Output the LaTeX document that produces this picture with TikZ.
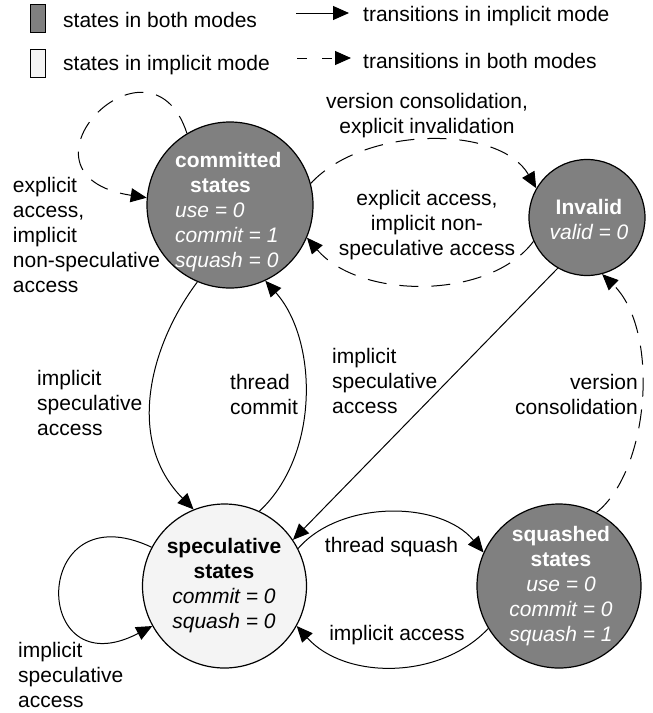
\documentclass[tikz,border=0pt]{standalone}
\usepackage{fontspec}
\setmainfont{Liberation Sans}
\usetikzlibrary{arrows.meta}
\definecolor{dgray}{RGB}{128,128,128}
\definecolor{lgray}{RGB}{244,244,244}
\begin{document}
\begin{tikzpicture}[x=1pt,y=-1pt,
  every node/.style={font=\fontsize{21}{25}\selectfont, inner sep=0pt},
  stateA/.style={circle, draw=black, line width=1.2pt, fill=dgray},
  stateB/.style={circle, draw=black, line width=1.2pt, fill=lgray},
  intext/.style={text=white, align=center},
  lbl/.style={align=left},
  tr/.style={line width=1pt, -{Triangle[length=16pt,width=14pt]}},
  trd/.style={tr, dash pattern=on 19pt off 13pt},
  legbox/.style={draw=black, line width=1pt},
]
\useasboundingbox (0,0) rectangle (653,713);

% legend
\draw[legbox, fill=dgray] (30,4) rectangle (45,32);
\draw[legbox, fill=lgray] (30,49) rectangle (45,77);
\node[anchor=west] (lg1) at (63,20) {states in both modes};
\node[anchor=west] (lg2) at (63,65) {states in implicit mode};
\coordinate (la1) at (296,13);
\coordinate (la2) at (349,13);
\coordinate (la3) at (297,58);
\coordinate (la4) at (351,58);
\draw[tr] (la1) -- (la2);
\draw[tr, dash pattern=on 10pt off 15pt] (la3) -- (la4);
\node[anchor=west] (lg3) at (363,16) {transitions in implicit mode};
\node[anchor=west] (lg4) at (363,61) {transitions in both modes};

% states
\node[stateA, minimum size=166pt] (comm) at (230,205) {};
\node[stateA, minimum size=116pt] (inv) at (587,217.5) {};
\node[stateB, minimum size=164pt] (spec) at (224.5,586) {};
\node[stateA, minimum size=164pt] (sq) at (559,586) {};

\node[text=white, align=left, anchor=west] (commt) at (175,212)
  {\textbf{committed}\\\hspace*{15pt}\textbf{states}\\\textit{use = 0}\\\textit{commit = 1}\\\textit{squash = 0}};
\node[intext] (invt) at (589,219.5) {\textbf{Invalid}\\\textit{valid = 0}};
\node[align=center] (spect) at (224,586) {\textbf{speculative}\\\textbf{states}\\\textit{commit = 0}\\\textit{squash = 0}};
\node[intext] (sqt) at (561,586) {\textbf{squashed}\\\textbf{states}\\\textit{use = 0}\\\textit{commit = 0}\\\textit{squash = 1}};

% transitions
\draw[trd] (comm.121) .. controls (150,20) and (0,175) .. (comm.175);
\draw[trd] (comm.15) .. controls (365,125) and (500,125) .. (inv.150);
\draw[trd] (inv.204) .. controls (490,300) and (360,300) .. (comm.-23);
\draw[tr] (comm.247) .. controls (150,345) and (125,440) .. (spec.112);
\draw[tr] (spec.65) .. controls (320,455) and (318,340) .. (comm.-65);
\draw[tr] (inv.240) -- (spec.34);
\draw[tr] (spec.27) .. controls (340,500) and (440,500) .. (sq.156);
\draw[tr] (sq.211) .. controls (440,680) and (345,680) .. (spec.-29);
\draw[trd] (sq.63) .. controls (650,470) and (660,330) .. (inv.-75);
\draw[tr] (spec.152) .. controls (30,490) and (30,690) .. (spec.209);

% labels
\node[lbl, anchor=west] (l1) at (12.7,235) {explicit\\access,\\implicit\\non-speculative\\access};
\node[align=center] (l2) at (427,115.5) {version consolidation,\\explicit invalidation};
\node[align=center] (l3) at (427,225) {explicit access,\\implicit non-\\speculative access};
\node[lbl, anchor=west] (l4) at (37,403) {implicit\\speculative\\access};
\node[lbl, anchor=west] (l5) at (230,394.5) {thread\\commit};
\node[lbl, anchor=west] (l6) at (332,381) {implicit\\speculative\\access};
\node[align=right, anchor=east] (l7) at (638,394) {version\\consolidation};
\node (l8) at (391.5,547) {thread squash};
\node (l9) at (397,635) {implicit access};
\node[lbl, anchor=west] (l10) at (18,675) {implicit\\speculative\\access};
\end{tikzpicture}
\end{document}
